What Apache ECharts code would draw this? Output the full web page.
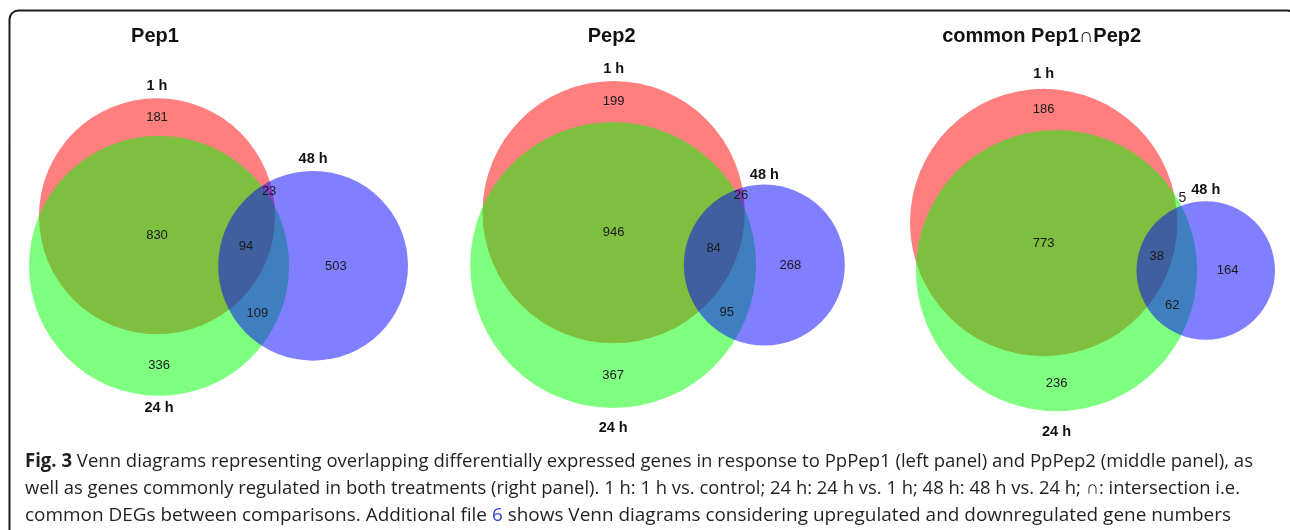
<!DOCTYPE html>
<html>
<head>
<meta charset="utf-8">
<script src="https://cdn.jsdelivr.net/npm/echarts@6/dist/echarts.min.js"></script>
<style>
  html, body { margin: 0; padding: 0; background: #ffffff; }
  #chart { width: 1290px; height: 530px; }
</style>
</head>
<body>
<div id="chart"></div>
<script>
// ---- data -------------------------------------------------------------
const panelTitles = ['Pep1', 'Pep2', 'common Pep1\u2229Pep2'];
const setNames = ['1 h', '24 h', '48 h'];
// exclusive region counts, in this order:
// 1h only, 24h only, 48h only, 1h&24h, 1h&48h, 24h&48h, all three
const pep1Counts = [181, 336, 503, 830, 23, 109, 94];
const pep2Counts = [199, 367, 268, 946, 26, 95, 84];
const commonCounts = [186, 236, 164, 773, 5, 62, 38];
// bit 0 = 1 h, bit 1 = 24 h, bit 2 = 48 h
const regionMasks = [1, 2, 4, 3, 5, 6, 7];

const captionLines = [
  [{ t: 'Fig. 3', s: 'b' }, { t: ' Venn diagrams representing overlapping differentially expressed genes in response to PpPep1 (left panel) and PpPep2 (middle panel), as', s: 'n' }],
  [{ t: 'well as genes commonly regulated in both treatments (right panel). 1 h: 1 h vs. control; 24 h: 24 h vs. 1 h; 48 h: 48 h vs. 24 h; \u2229: intersection i.e.', s: 'n' }],
  [{ t: 'common DEGs between comparisons. Additional file ', s: 'n' }, { t: '6', s: 'link' }, { t: ' shows Venn diagrams considering upregulated and downregulated gene numbers', s: 'n' }]
];

// ---- styling / layout --------------------------------------------------
const setColors = ['rgba(255,0,0,0.5)', 'rgba(0,255,0,0.5)', 'rgba(0,0,255,0.5)'];
const panelBoxes = [
  { left: 29, top: 98, width: 379, height: 298 },
  { left: 470, top: 81, width: 375, height: 327 },
  { left: 910, top: 87, width: 365, height: 326 }
];
// distance (px) between each circle's edge and its set name
const nameGaps = [[12, 12, 12], [12, 20, 10], [15, 21, 11]];
const chartFont = '"Liberation Sans", Arial, sans-serif';
const captionFont = '"Open Sans", "Noto Sans", sans-serif';
const captionSize = 19;
const captionLeft = 25;
const captionTops = [462, 489, 516];
const captionRights = [1253, 1240, 1231];

// ---- area-proportional 3-circle layout ---------------------------------
function lensArea(r1, r2, d) {
  if (d >= r1 + r2) return 0;
  if (d <= Math.abs(r1 - r2)) { const r = Math.min(r1, r2); return Math.PI * r * r; }
  const a1 = Math.acos((d * d + r1 * r1 - r2 * r2) / (2 * d * r1));
  const a2 = Math.acos((d * d + r2 * r2 - r1 * r1) / (2 * d * r2));
  const k = Math.sqrt((-d + r1 + r2) * (d + r1 - r2) * (d - r1 + r2) * (d + r1 + r2));
  return r1 * r1 * a1 + r2 * r2 * a2 - 0.5 * k;
}
function distanceFor(r1, r2, area) {
  let lo = Math.abs(r1 - r2), hi = r1 + r2;
  for (let i = 0; i < 80; i++) {
    const mid = (lo + hi) / 2;
    if (lensArea(r1, r2, mid) > area) lo = mid; else hi = mid;
  }
  return (lo + hi) / 2;
}
function layoutVenn(c) {
  const [a, b, cc, ab, ac, bc, abc] = c;
  const sizes = [a + ab + ac + abc, b + ab + bc + abc, cc + ac + bc + abc];
  const r = sizes.map(v => Math.sqrt(v / Math.PI));
  const d12 = distanceFor(r[0], r[1], ab + abc);
  const d13 = distanceFor(r[0], r[2], ac + abc);
  const d23 = distanceFor(r[1], r[2], bc + abc);
  const x1 = (d12 * d12 + d23 * d23 - d13 * d13) / (2 * d23);
  const y1 = Math.sqrt(Math.max(0, d12 * d12 - x1 * x1));
  const centers = [[x1, y1], [0, 0], [d23, 0]];
  let bx0 = Infinity, bx1 = -Infinity, by0 = Infinity, by1 = -Infinity;
  centers.forEach((p, i) => {
    bx0 = Math.min(bx0, p[0] - r[i]); bx1 = Math.max(bx1, p[0] + r[i]);
    by0 = Math.min(by0, p[1] - r[i]); by1 = Math.max(by1, p[1] + r[i]);
  });
  return { r, centers, bbox: [bx0, bx1, by0, by1] };
}
function maskAt(geo, x, y) {
  let m = 0;
  for (let i = 0; i < 3; i++) {
    if (Math.hypot(x - geo.centers[i][0], y - geo.centers[i][1]) <= geo.r[i]) m |= (1 << i);
  }
  return m;
}
// upper crossing point of two circles
function upperCrossing(c0, r0, c1, r1) {
  const dx = c1[0] - c0[0], dy = c1[1] - c0[1];
  const d = Math.hypot(dx, dy);
  const a = (d * d + r0 * r0 - r1 * r1) / (2 * d);
  const h = Math.sqrt(Math.max(0, r0 * r0 - a * a));
  const mx = c0[0] + a * dx / d, my = c0[1] + a * dy / d;
  const p1 = [mx - h * dy / d, my + h * dx / d], p2 = [mx + h * dy / d, my - h * dx / d];
  return p1[1] > p2[1] ? p1 : p2;
}
// middle of the longest stretch of a region along the vertical through x
function verticalRunMid(geo, m, x) {
  const step = 0.02;
  let bestLen = 0, bestMid = null, start = null;
  for (let y = geo.bbox[2]; y <= geo.bbox[3] + step; y += step) {
    const inside = y <= geo.bbox[3] && maskAt(geo, x, y) === m;
    if (inside && start === null) start = y;
    if (!inside && start !== null) {
      if (y - start > bestLen) { bestLen = y - start; bestMid = (start + y - step) / 2; }
      start = null;
    }
  }
  return bestMid === null ? null : [x, bestMid];
}
// label anchor of every region: the 1 h / 24 h regions sit on the vertical
// through their circle, the 24h&48h sliver at its widest point, the rest at
// their centre of mass; an almost empty sliver is labelled next to the
// crossing of the 1 h and 48 h circles
function regionLabelPoints(geo) {
  const { r, centers, bbox } = geo;
  const step = 0.08;
  const sx = new Array(8).fill(0), sy = new Array(8).fill(0), n = new Array(8).fill(0);
  const best = new Array(8).fill(-1), bestPt = new Array(8).fill(null);
  for (let x = bbox[0]; x <= bbox[1]; x += step) {
    for (let y = bbox[2]; y <= bbox[3]; y += step) {
      let m = 0, edge = Infinity;
      for (let i = 0; i < 3; i++) {
        const dd = Math.hypot(x - centers[i][0], y - centers[i][1]);
        if (dd <= r[i]) m |= (1 << i);
        edge = Math.min(edge, Math.abs(dd - r[i]));
      }
      sx[m] += x; sy[m] += y; n[m]++;
      if (edge > best[m]) { best[m] = edge; bestPt[m] = [x, y]; }
    }
  }
  const verticalAt = { 1: 0, 2: 1, 3: 0 };
  return regionMasks.map(m => {
    if (n[m] < 40) return { pt: upperCrossing(centers[0], r[0], centers[2], r[2]), outside: true };
    if (m in verticalAt) {
      const v = verticalRunMid(geo, m, centers[verticalAt[m]][0]);
      if (v) return { pt: v, outside: false };
    }
    if (m === 6) return { pt: bestPt[m], outside: false };
    return { pt: [sx[m] / n[m], sy[m] / n[m]], outside: false };
  });
}

const panelCounts = [pep1Counts, pep2Counts, commonCounts];
const panels = panelCounts.map(c => {
  const geo = layoutVenn(c);
  return { counts: c, geo, labels: regionLabelPoints(geo) };
});

// ---- chart -------------------------------------------------------------
const grids = [], xAxes = [], yAxes = [], series = [];
panels.forEach((p, k) => {
  const box = panelBoxes[k];
  const [bx0, bx1, by0, by1] = p.geo.bbox;
  const s = Math.min(box.width / (bx1 - bx0), box.height / (by1 - by0));
  const xr = box.width / s, yr = box.height / s;
  const mx = (bx0 + bx1) / 2, my = (by0 + by1) / 2;
  grids.push({ left: box.left, top: box.top, width: box.width, height: box.height, show: false });
  xAxes.push({ type: 'value', gridIndex: k, min: mx - xr / 2, max: mx + xr / 2, show: false });
  yAxes.push({ type: 'value', gridIndex: k, min: my - yr / 2, max: my + yr / 2, show: false });

  const circleData = p.geo.centers.map((c, i) => [c[0], c[1], p.geo.r[i], i]);

  series.push({
    type: 'custom', xAxisIndex: k, yAxisIndex: k, silent: true,
    data: circleData,
    renderItem(params, api) {
      const pt = api.coord([api.value(0), api.value(1)]);
      const rr = api.size([api.value(2), 0])[0];
      return { type: 'circle', shape: { cx: pt[0], cy: pt[1], r: rr }, style: { fill: setColors[api.value(3)] } };
    }
  });

  // set names just outside each circle, panel title above the 1 h set
  series.push({
    type: 'custom', xAxisIndex: k, yAxisIndex: k, silent: true, z: 5,
    data: circleData,
    renderItem(params, api) {
      const pt = api.coord([api.value(0), api.value(1)]);
      const rr = api.size([api.value(2), 0])[0];
      const i = api.value(3);
      const gap = nameGaps[k][i];
      const y = i === 1 ? pt[1] + rr + gap : pt[1] - rr - gap;
      const children = [{
        type: 'text',
        style: { x: pt[0], y: y, text: setNames[i], fill: '#111', font: 'bold 14.5px ' + chartFont, align: 'center', verticalAlign: 'middle' }
      }];
      if (i === 0) {
        children.push({
          type: 'text',
          style: { x: pt[0] - 2, y: 36, text: panelTitles[k], fill: '#111', font: 'bold 20px ' + chartFont, align: 'center', verticalAlign: 'middle' }
        });
      }
      return { type: 'group', children };
    }
  });

  // region counts
  series.push({
    type: 'custom', xAxisIndex: k, yAxisIndex: k, silent: true, z: 6,
    data: p.labels.map((q, j) => [q.pt[0], q.pt[1], p.counts[j], q.outside ? 1 : 0]),
    renderItem(params, api) {
      const pt = api.coord([api.value(0), api.value(1)]);
      const out = api.value(3) === 1;
      return {
        type: 'text',
        style: {
          x: pt[0] + (out ? 6 : 0), y: pt[1] + (out ? -10 : 0),
          text: String(api.value(2)), fill: '#1a1a1a', font: (out ? '14px ' : '13px ') + chartFont,
          align: 'center', verticalAlign: 'middle'
        }
      };
    }
  });
});

// ---- caption -----------------------------------------------------------
const measureCtx = document.createElement('canvas').getContext('2d');
const fontFor = st => (st === 'b' ? 'bold ' : '') + captionSize + 'px ' + captionFont;
function lineWidth(parts) {
  return parts.reduce((w, part) => { measureCtx.font = fontFor(part.s); return w + measureCtx.measureText(part.t).width; }, 0);
}
const captionGraphics = captionLines.map((parts, li) => ({
  type: 'text',
  x: captionLeft, y: captionTops[li],
  scaleX: (captionRights[li] - captionLeft) / lineWidth(parts), originX: 0, originY: 0,
  style: {
    text: parts.map(part => '{' + part.s + '|' + part.t + '}').join(''),
    x: 0, y: 0, verticalAlign: 'middle', align: 'left',
    rich: {
      n: { font: fontFor('n'), fill: '#231f20' },
      b: { font: fontFor('b'), fill: '#231f20' },
      link: { font: fontFor('n'), fill: '#2b45d4' }
    }
  }
}));

const chart = echarts.init(document.getElementById('chart'), null, { renderer: 'canvas' });
chart.setOption({
  animation: false,
  backgroundColor: '#ffffff',
  grid: grids,
  xAxis: xAxes,
  yAxis: yAxes,
  series,
  graphic: [
    {
      type: 'rect', silent: true,
      shape: { x: 9.5, y: 10.5, width: 1287, height: 600, r: 9 },
      style: { fill: 'none', stroke: '#1c1c1c', lineWidth: 2 }
    },
    ...captionGraphics
  ]
});
</script>
</body>
</html>
